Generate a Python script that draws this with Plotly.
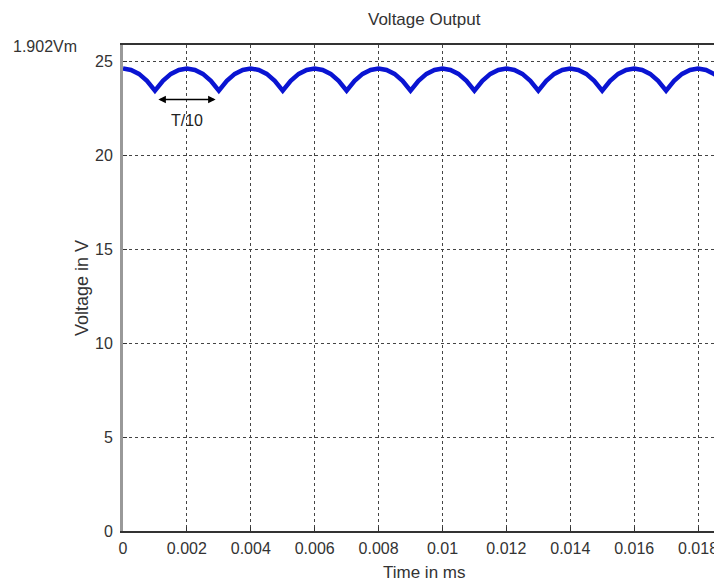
import plotly.graph_objects as go

# time samples (s) every 0.00025
time_s = [i * 0.00025 for i in range(76)]
# voltage values (peaks ~24.65 V, dips ~23.5 V every 0.002 s)
voltage_v = [
    24.65, 24.57, 24.36, 23.99, 23.47, 23.99, 24.36, 24.57,
    24.65, 24.57, 24.36, 23.99, 23.47, 23.99, 24.36, 24.57,
    24.65, 24.57, 24.36, 23.99, 23.47, 23.99, 24.36, 24.57,
    24.65, 24.57, 24.36, 23.99, 23.47, 23.99, 24.36, 24.57,
    24.65, 24.57, 24.36, 23.99, 23.47, 23.99, 24.36, 24.57,
    24.65, 24.57, 24.36, 23.99, 23.47, 23.99, 24.36, 24.57,
    24.65, 24.57, 24.36, 23.99, 23.47, 23.99, 24.36, 24.57,
    24.65, 24.57, 24.36, 23.99, 23.47, 23.99, 24.36, 24.57,
    24.65, 24.57, 24.36, 23.99, 23.47, 23.99, 24.36, 24.57,
    24.65, 24.57, 24.36, 23.99,
]
x_ticks = [0, 0.002, 0.004, 0.006, 0.008, 0.01, 0.012, 0.014, 0.016, 0.018]
x_tick_labels = ["0", "0.002", "0.004", "0.006", "0.008", "0.01", "0.012", "0.014", "0.016", "0.018"]
y_ticks = [0, 5, 10, 15, 20, 25]
y_tick_labels = ["0", "5", "10", "15", "20", "25"]

FONT = "Liberation Sans, Arial"
TXT = "#333333"
FS = 15

fig = go.Figure()
fig.add_trace(go.Scatter(x=time_s, y=voltage_v, mode="lines",
                         line=dict(color="#0a14d2", width=4.5), showlegend=False))

# page body has an 8px margin; the figure is sized to fit the window without overflow
fig.update_layout(
    width=714, height=575,
    margin=dict(l=115, r=0, t=37, b=52),
    plot_bgcolor="white", paper_bgcolor="white",
    font=dict(family=FONT, size=FS, color=TXT),
    xaxis=dict(range=[0, 0.01875], tickvals=x_ticks, ticktext=x_tick_labels,
               showgrid=True, gridcolor="#444444", griddash="3px,3px", gridwidth=1,
               showline=True, linecolor="#333333", linewidth=2, mirror=True,
               ticks="inside", ticklen=4, tickcolor="#333333", zeroline=False,
               automargin=False, ticklabelstandoff=2,
               tickfont=dict(family=FONT, size=16, color=TXT)),
    yaxis=dict(range=[0, 25.9], tickvals=y_ticks, ticktext=y_tick_labels,
               showgrid=True, gridcolor="#444444", griddash="3px,3px", gridwidth=1,
               showline=True, linecolor="#999999", linewidth=3,
               ticks="inside", ticklen=4, tickcolor="#333333", zeroline=False,
               automargin=False, ticklabelstandoff=4,
               tickfont=dict(family=FONT, size=16, color=TXT)),
)

def label(text, x, y, xref, yref, xshift=0, yshift=0, angle=0, color=TXT, size=FS):
    fig.add_annotation(text=text, xref=xref, yref=yref, x=x, y=y, xshift=xshift, yshift=yshift,
                       xanchor="center", yanchor="middle", textangle=angle, showarrow=False,
                       font=dict(family=FONT, size=size, color=color))

label("Voltage Output", 0.503, 1.0, "paper", "paper", yshift=26, size=17)
label("Time in ms", 0.503, 0.0, "paper", "paper", yshift=-41, size=17)
label("Voltage in V", 0.0, 0.5, "paper", "paper", xshift=-41, angle=-90, size=18)
label("1.902Vm", 0.0, 25.8, "paper", "y", xshift=-78, size=16)
# T/10 double arrow
fig.add_annotation(x=0.0029, y=23.0, ax=0.00106, ay=23.0, xref="x", yref="y", axref="x", ayref="y",
                   text="", showarrow=True, arrowhead=2, arrowsize=1, arrowwidth=1.5,
                   arrowcolor="black", startarrowhead=2, arrowside="end+start")
label("T/10", 0.002, 21.9, "x", "y", color="#222222", size=16)

fig.write_html("out.html")
